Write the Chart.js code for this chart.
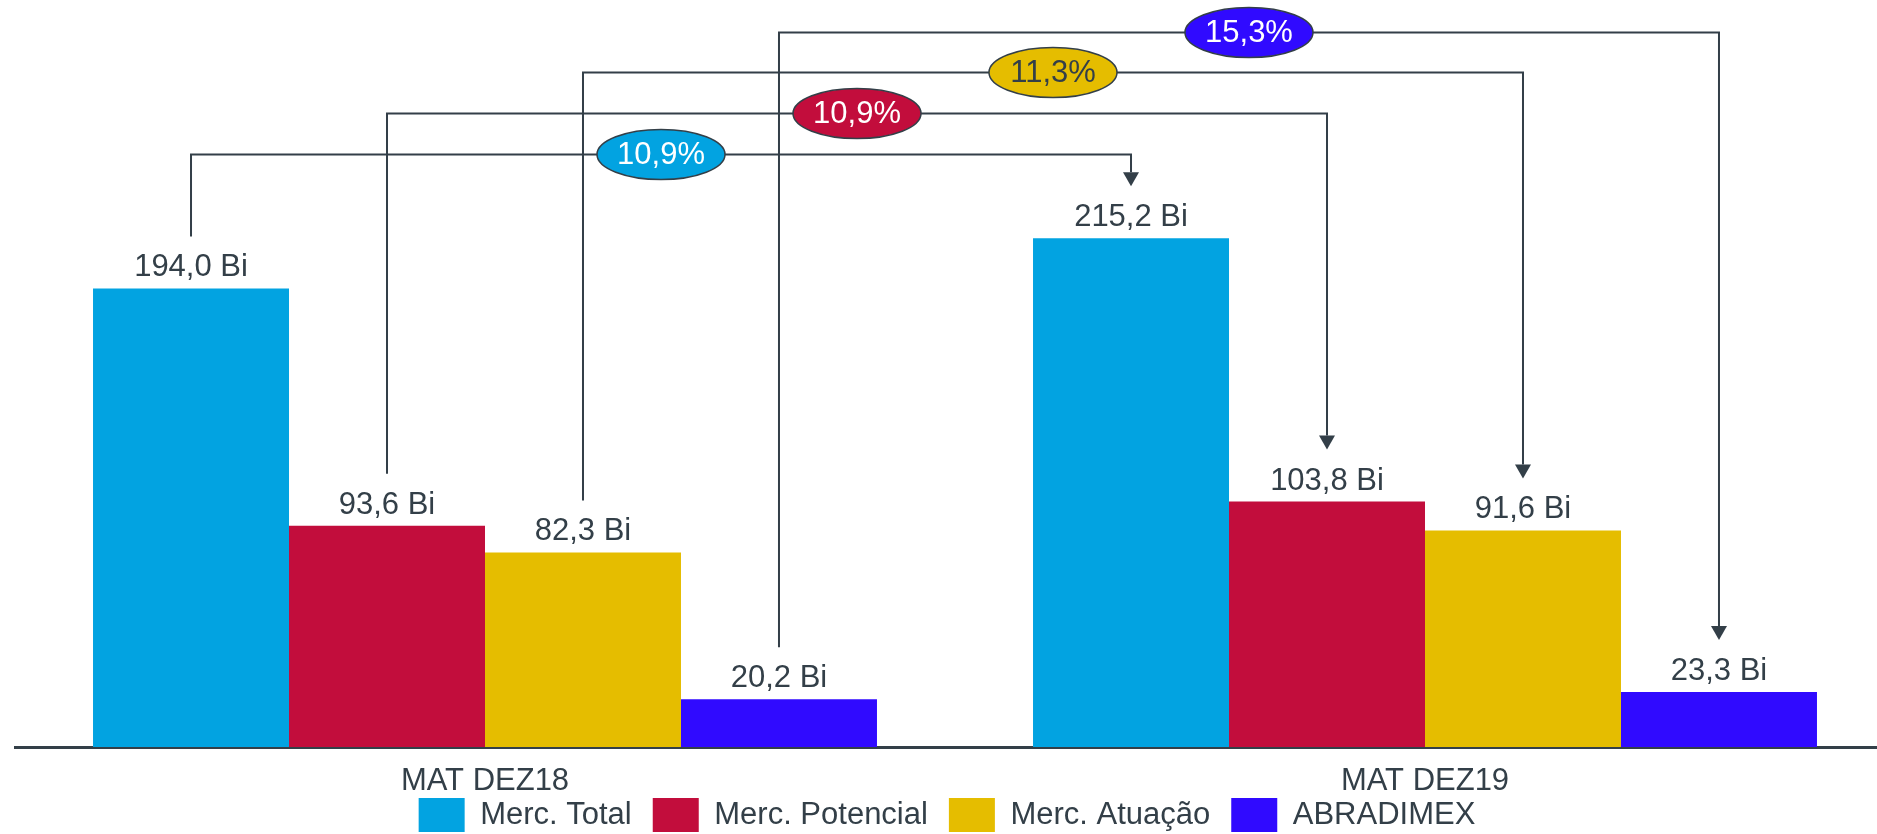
<!DOCTYPE html>
<html>
<head>
<meta charset="utf-8">
<script src="https://cdn.jsdelivr.net/npm/chart.js@4"></script>
<style>
  html, body { margin: 0; padding: 0; background: #ffffff; }
  /* canvas is a bit larger than the window; the wrapper crops it */
  #wrap { width: 1877px; height: 834px; overflow: hidden; }
  canvas { display: block; }
</style>
</head>
<body>
<div id="wrap"><canvas id="chart" width="1900" height="842"></canvas></div>
<script>
// ---- data ----
const categories = ['MAT DEZ18', 'MAT DEZ19'];
const seriesNames = ['Merc. Total', 'Merc. Potencial', 'Merc. Atuação', 'ABRADIMEX'];
const mercTotal = [194.0, 215.2];
const mercPotencial = [93.6, 103.8];
const mercAtuacao = [82.3, 91.6];
const abradimex = [20.2, 23.3];
const growthLabels = ['10,9%', '10,9%', '11,3%', '15,3%'];

// ---- styles ----
const INK = '#333f48';
const FONT = '"Liberation Sans", Arial, sans-serif';
const seriesColors = ['#02a3e1', '#c20d3c', '#e5bd00', '#300aff'];
const bubbleText = ['#ffffff', '#ffffff', INK, '#ffffff'];

Chart.defaults.font.family = FONT;
Chart.defaults.color = INK;

/**
 * Value labels above each bar plus the growth connectors
 * (line from the 2018 bar over to the 2019 bar, with a % bubble).
 */
const growthPlugin = {
  id: 'growth',
  afterLayout(chart) {
    // x labels hang below the thin axis band; widen its clip box
    chart.scales.x.bottom += 40;
    // nudge legend a little left, like the original
    chart.legend.left -= 8;
    chart.legend.right -= 8;
  },
  afterDatasetsDraw(chart, args, opts) {
    const { ctx } = chart;
    const yScale = chart.scales.y;
    ctx.save();

    // value labels
    ctx.font = `31px ${FONT}`;
    ctx.fillStyle = INK;
    ctx.textAlign = 'center';
    ctx.textBaseline = 'alphabetic';
    chart.data.datasets.forEach((ds, i) => {
      chart.getDatasetMeta(i).data.forEach((bar, j) => {
        const txt = ds.data[j].toFixed(1).replace('.', ',') + ' Bi';
        ctx.fillText(txt, bar.x, bar.y - opts.labelGap);
      });
    });

    // connector lines + arrow heads
    const bubbles = [];
    ctx.strokeStyle = INK;
    ctx.fillStyle = INK;
    ctx.lineWidth = 2;
    chart.data.datasets.forEach((ds, i) => {
      const [a, b] = chart.getDatasetMeta(i).data;
      const y = Math.round(yScale.getPixelForValue(opts.levels[i])) + 0.5;
      const tipY = b.y - opts.lineGap;
      ctx.beginPath();
      ctx.moveTo(a.x, a.y - opts.lineGap);
      ctx.lineTo(a.x, y);
      ctx.lineTo(b.x, y);
      ctx.lineTo(b.x, tipY - opts.head);
      ctx.stroke();
      ctx.beginPath();
      ctx.moveTo(b.x - 8, tipY - opts.head);
      ctx.lineTo(b.x + 8, tipY - opts.head);
      ctx.lineTo(b.x, tipY);
      ctx.closePath();
      ctx.fill();
      bubbles.push({ x: (a.x + b.x) / 2, y, i });
    });

    // % bubbles on top
    ctx.font = `31px ${FONT}`;
    ctx.textBaseline = 'middle';
    bubbles.forEach(({ x, y, i }) => {
      ctx.beginPath();
      ctx.ellipse(x, y, 64, 25, 0, 0, Math.PI * 2);
      ctx.fillStyle = seriesColors[i];
      ctx.fill();
      ctx.lineWidth = 1.5;
      ctx.strokeStyle = INK;
      ctx.stroke();
      ctx.fillStyle = bubbleText[i];
      ctx.fillText(growthLabels[i], x, y + 1);
    });
    ctx.restore();
  },
};

const seriesData = [mercTotal, mercPotencial, mercAtuacao, abradimex];

new Chart(document.getElementById('chart'), {
  type: 'bar',
  data: {
    labels: categories,
    datasets: seriesNames.map((name, i) => ({
      label: name,
      data: seriesData[i],
      backgroundColor: seriesColors[i],
      borderWidth: 0,
      categoryPercentage: 0.834,
      barPercentage: 1,
    })),
  },
  options: {
    responsive: false,
    animation: false,
    layout: { padding: { left: 15, right: 5, top: 0, bottom: 0 } },
    plugins: {
      tooltip: { enabled: false },
      legend: {
        position: 'bottom',
        labels: {
          boxWidth: 46,
          boxHeight: 34,
          padding: 21,
          color: INK,
          font: { size: 31 },
        },
      },
      growth: {
        levels: [251, 268, 285.5, 302.5],
        labelGap: 12,
        lineGap: 52,
        head: 14,
      },
    },
    scales: {
      x: {
        grid: { display: false, drawTicks: false },
        border: { display: true, color: INK, width: 3 },
        ticks: { padding: 33, color: INK, font: { size: 31, lineHeight: '2px' } },
        // keep the axis band thin so the legend sits right under the labels
        afterFit: (scale) => { scale.height = 30; },
      },
      y: { display: false, min: 0, max: 316 },
    },
  },
  plugins: [growthPlugin],
});
</script>
</body>
</html>
